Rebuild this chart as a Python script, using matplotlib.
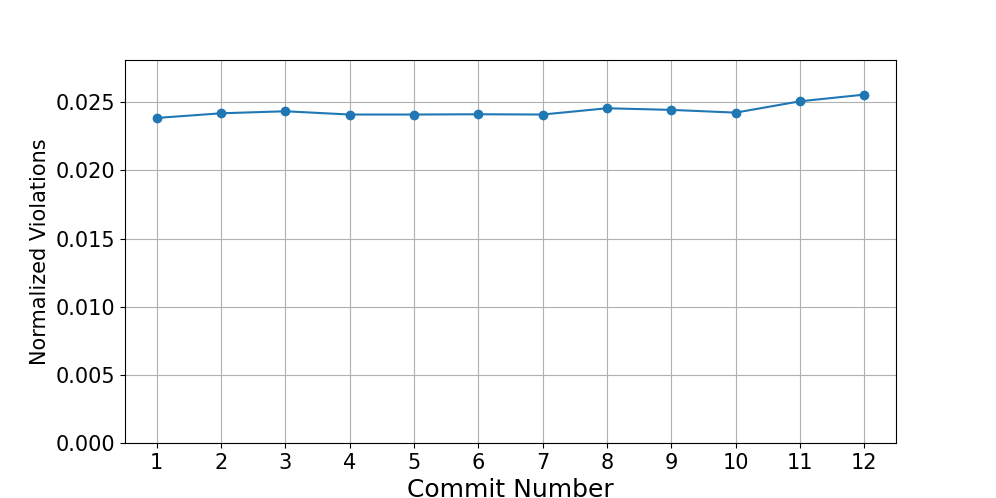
import matplotlib
matplotlib.use("Agg")
import matplotlib.pyplot as plt

commits = list(range(1, 13))
violations = [0.02385, 0.02419, 0.02434, 0.02410, 0.02410, 0.02412,
              0.02410, 0.02456, 0.02444, 0.02424, 0.02507, 0.02556]

fig, ax = plt.subplots(figsize=(9.96, 4.98), dpi=100)
ax.plot(commits, violations, marker='o', color='#1f77b4')
ax.set_xlim(0.5, 12.5)
ax.set_ylim(0, max(violations) * 1.1)
ax.set_xticks(commits)
ax.set_xticklabels([str(c) for c in commits])
ax.grid(True)
ax.tick_params(labelsize=15)
ax.set_xlabel('Commit Number', fontsize=18)
ax.set_ylabel('Normalized Violations', fontsize=15)
fig.savefig('out.png', dpi=100)
